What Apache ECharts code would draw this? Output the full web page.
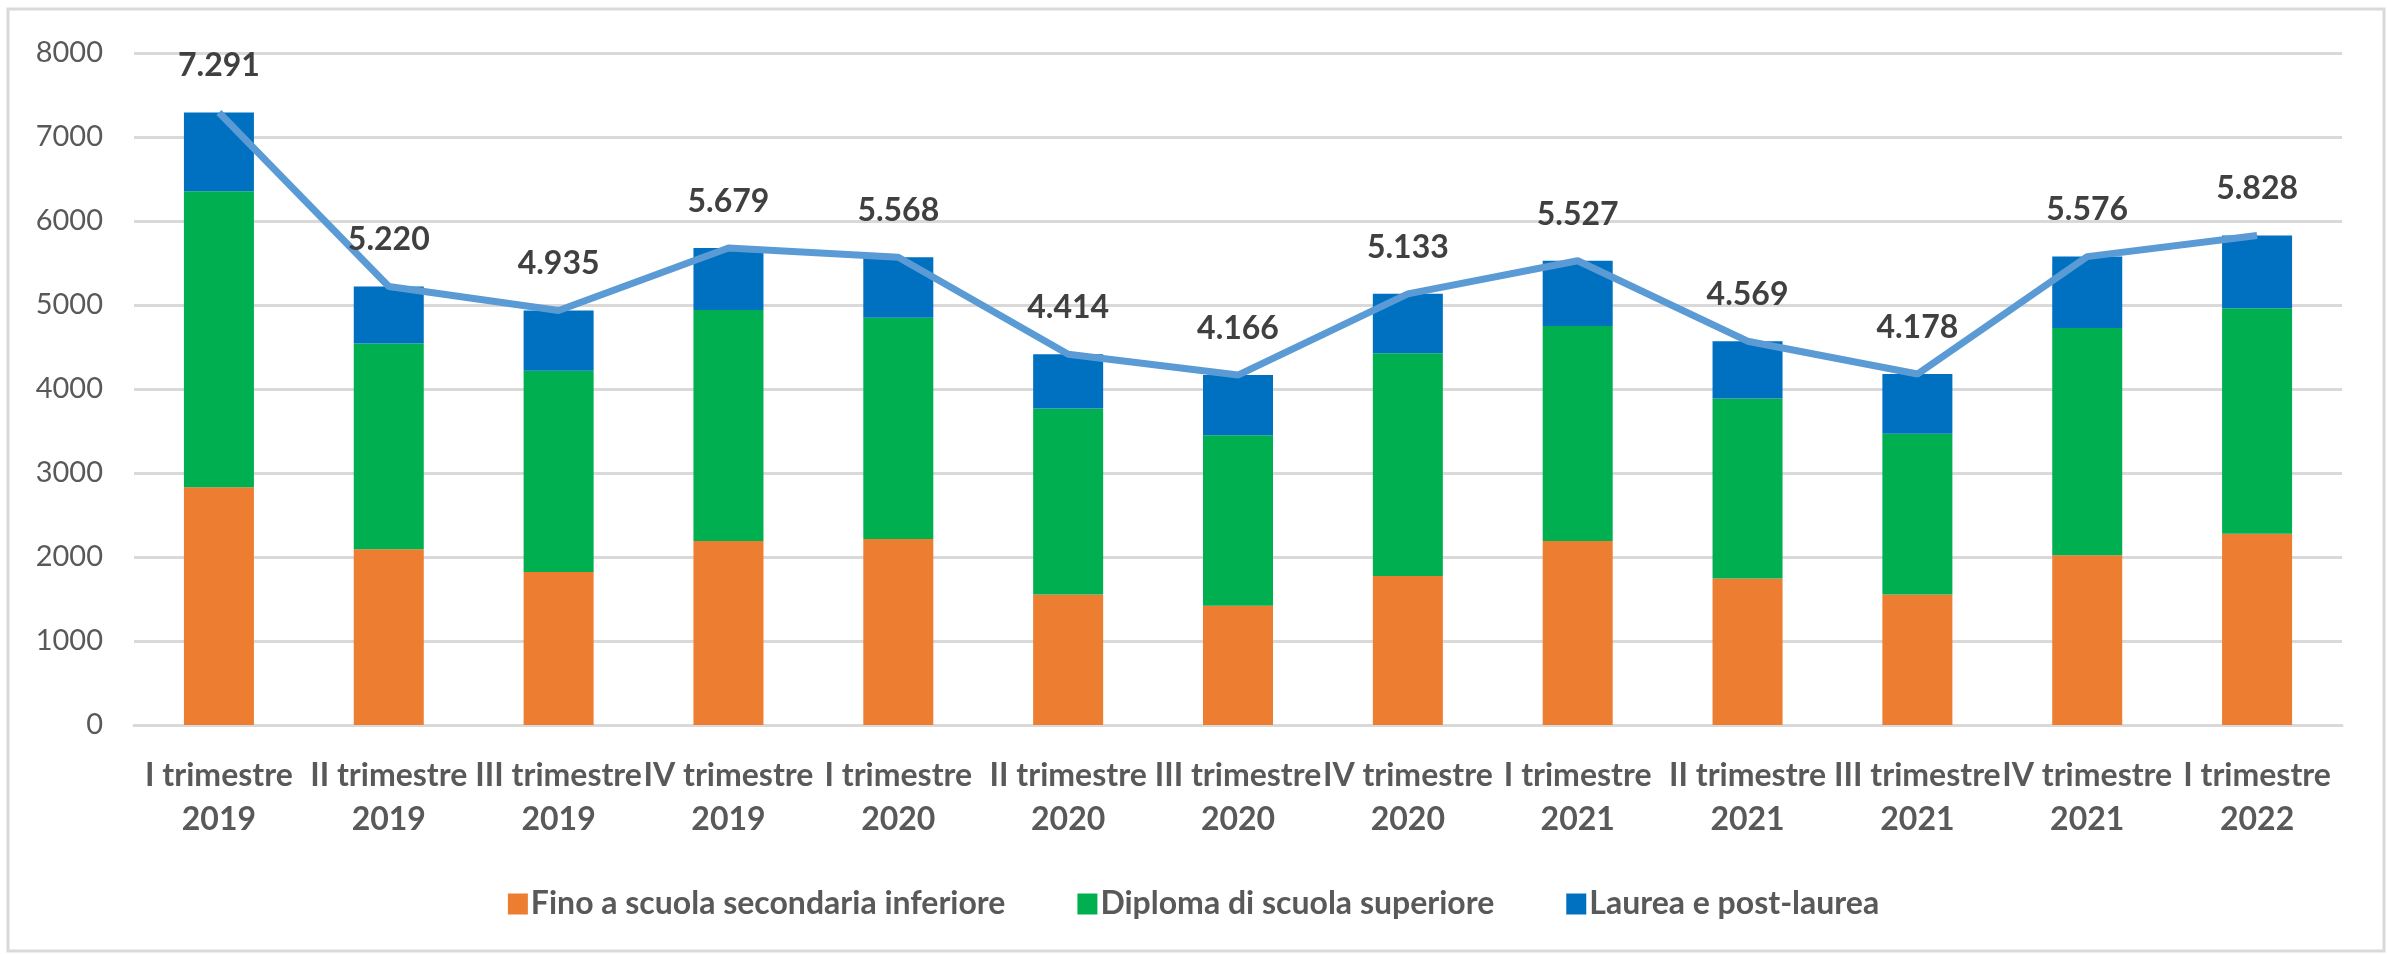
<!DOCTYPE html>
<html>
<head>
<meta charset="utf-8">
<script src="https://cdn.jsdelivr.net/npm/echarts@6/dist/echarts.min.js"></script>
<style>
    html, body {margin: 0; padding: 0; background: #fff;}
    #barChart {width: 2387px; height: 954px;}
</style>
</head>
<body>
<div id="barChart"></div>
<script>
//categorie (trimestri)
var trimestri = ['I trimestre\n2019', 'II trimestre\n2019', 'III trimestre\n2019', 'IV trimestre\n2019',
    'I trimestre\n2020', 'II trimestre\n2020', 'III trimestre\n2020', 'IV trimestre\n2020',
    'I trimestre\n2021', 'II trimestre\n2021', 'III trimestre\n2021', 'IV trimestre\n2021',
    'I trimestre\n2022'];

var fino = [2830, 2091, 1820, 2189, 2213, 1554, 1421, 1774, 2189, 1745, 1554, 2022, 2276];
var diploma = [3525, 2450, 2397, 2750, 2634, 2213, 2028, 2651, 2560, 2143, 1912, 2704, 2686];
var laurea = [936, 679, 718, 740, 721, 647, 717, 708, 778, 681, 712, 850, 866];
var totale = [7291, 5220, 4935, 5679, 5568, 4414, 4166, 5133, 5527, 4569, 4178, 5576, 5828];

var yTicks = [0, 1000, 2000, 3000, 4000, 5000, 6000, 7000, 8000];

var fontName = 'Lato, "Open Sans", sans-serif';

//separatore delle migliaia all'italiana
function formatIt(v) {
    return String(v).replace(/\B(?=(\d{3})+(?!\d))/g, '.');
}

var barChart = echarts.init(document.getElementById('barChart'));
barChart.setOption({
    animation: false,
    color: ['#ed7d31', '#00b050', '#0070c0', '#5b9bd5'],
    textStyle: {fontFamily: fontName},
    graphic: [{
        type: 'rect',
        shape: {x: 8, y: 9, width: 2376, height: 942},
        style: {fill: 'none', stroke: '#d9d9d9', lineWidth: 3},
        silent: true
    }],
    grid: {
        left: 134,
        right: 45,
        top: 53,
        bottom: 229
    },
    legend: {
        top: 883,
        left: 'center',
        itemWidth: 20,
        itemHeight: 21,
        itemGap: 72,
        icon: 'rect',
        textStyle: {
            color: '#595959',
            fontSize: 32,
            fontWeight: 'bold',
            fontFamily: fontName,
            padding: [0, 0, 0, -2]
        },
        data: ['Fino a scuola secondaria inferiore', 'Diploma di scuola superiore', 'Laurea e post-laurea']
    },
    xAxis: {
        type: 'category',
        data: trimestri,
        axisTick: {show: false},
        axisLine: {lineStyle: {color: '#d9d9d9', width: 3}},
        axisLabel: {
            interval: 0,
            margin: 29,
            color: '#595959',
            fontSize: 32,
            fontWeight: 'bold',
            lineHeight: 44,
            fontFamily: fontName
        }
    },
    yAxis: {
        type: 'value',
        min: yTicks[0],
        max: yTicks[yTicks.length - 1],
        interval: 1000,
        axisLine: {show: false},
        axisTick: {show: false},
        axisLabel: {
            margin: 31,
            color: '#595959',
            fontSize: 29,
            fontFamily: fontName,
            formatter: function (v) {
                return String(v);
            }
        },
        splitLine: {lineStyle: {color: '#d9d9d9', width: 3}}
    },
    series: [
        {
            name: 'Fino a scuola secondaria inferiore',
            type: 'bar',
            stack: 'tot',
            barWidth: 70,
            data: fino
        },
        {
            name: 'Diploma di scuola superiore',
            type: 'bar',
            stack: 'tot',
            barWidth: 70,
            data: diploma
        },
        {
            name: 'Laurea e post-laurea',
            type: 'bar',
            stack: 'tot',
            barWidth: 70,
            data: laurea
        },
        {
            name: 'Totale',
            type: 'line',
            symbol: 'circle',
            symbolSize: 1,
            showSymbol: true,
            z: 5,
            itemStyle: {color: 'rgba(91,155,213,0)'},
            lineStyle: {color: '#5b9bd5', width: 7},
            label: {
                show: true,
                position: 'top',
                distance: 30,
                color: '#404040',
                fontSize: 32,
                fontWeight: 'bold',
                fontFamily: fontName,
                formatter: function (p) {
                    return formatIt(p.value);
                }
            },
            data: totale
        }
    ]
});
</script>
</body>
</html>
